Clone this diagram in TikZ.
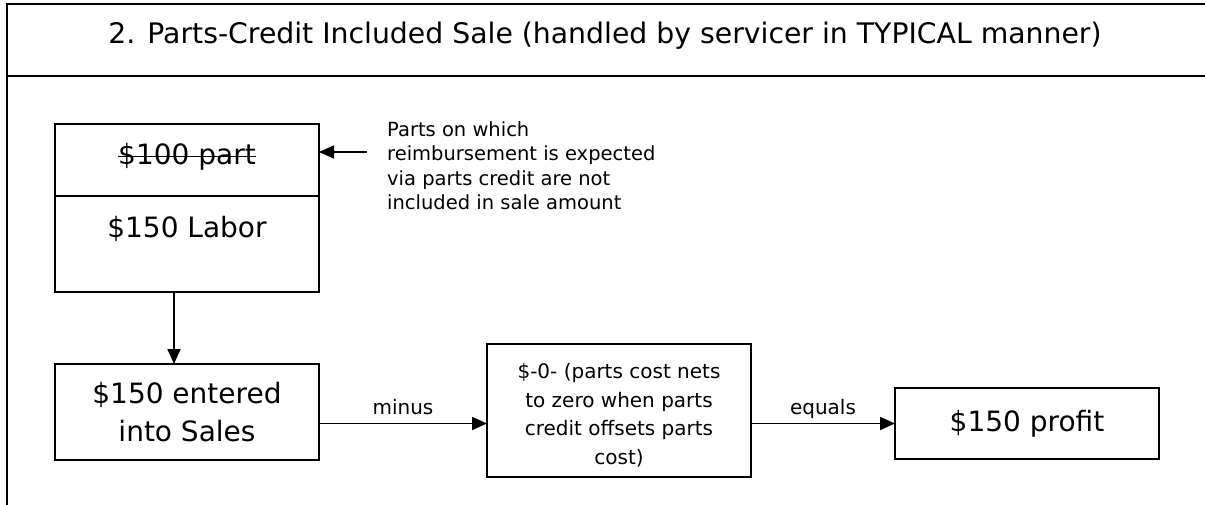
\documentclass[tikz,border=0pt]{standalone}
\usepackage{fontspec}
\setmainfont{DejaVu Sans}
\usetikzlibrary{positioning,arrows.meta}
\newsavebox\strikebox
\newcommand{\struck}[1]{\sbox\strikebox{#1}\rlap{\rule[0.5ex]{\wd\strikebox}{1.6pt}}\usebox\strikebox}

\begin{document}
\begin{tikzpicture}[x=1pt, y=1pt, >={Triangle[length=15pt,width=13pt]}]
  % Styles
  \tikzstyle{frame}=[line width=2.5pt]
  \tikzstyle{sumbox}=[rectangle, draw, line width=2pt, outer sep=0pt, inner sep=0pt, minimum width=264pt, align=center, font=\fontsize{28}{38}\selectfont]
  \tikzstyle{midbox}=[rectangle, draw, line width=2pt, outer sep=0pt, inner sep=0pt, minimum width=264pt, minimum height=133pt, align=center, font=\fontsize{20}{28.5}\selectfont]
  \tikzstyle{notetext}=[inner sep=0pt, align=left, font=\fontsize{19.5}{24.5}\selectfont]
  \tikzstyle{flow}=[->, line width=1.8pt]
  \tikzstyle{lbl}=[inner sep=0pt, text depth=0pt, font=\fontsize{20}{24}\selectfont]

  \useasboundingbox (0,0) rectangle (1205,-505);

  % Frame and title
  \draw[frame] (1210,-4) -- (7,-4) -- (7,-510);
  \draw[frame] (7,-76) -- (1210,-76);
  \node[font=\fontsize{28.3}{34}\selectfont] (title) at (605,-36) {2. Parts-Credit Included Sale (handled by servicer in TYPICAL manner)};

  % Invoice
  \node[sumbox, text height=41pt, text depth=31pt, anchor=north west] (part) at (55,-124) {\struck{\$100 part}};
  \node[sumbox, text height=42pt, text depth=54pt, below=0pt of part] (labor) {\$150 Labor};

  % Note
  \node[notetext, anchor=north west] (note) at (387,-121) {Parts on which\\reimbursement is expected\\via parts credit are not\\included in sale amount};
  \coordinate (noteend) at (367,-152);
  \draw[flow] (noteend) -- (part.east |- noteend);

  % Sale flow
  \node[sumbox, minimum height=96pt, anchor=north west] (sales) at (55,-364) {\$150 entered\\into Sales};
  \node[midbox, anchor=north west] (offset) at (487,-344) {\rule{0pt}{25pt}\$-0- (parts cost nets\\to zero when parts\\credit offsets parts\\cost)};
  \node[sumbox, minimum height=71pt, anchor=north west] (profit) at (895,-388) {\$150 profit};

  % Arrows
  \draw[flow] ([xshift=-13pt]labor.south) -- ([xshift=-13pt]sales.north);
  \draw[flow] (sales.east |- profit.west) -- node[lbl, above=8pt] {minus} (offset.west |- profit.west);
  \draw[flow] (offset.east |- profit.west) -- node[lbl, above=8pt] {equals} (profit);
\end{tikzpicture}
\end{document}
